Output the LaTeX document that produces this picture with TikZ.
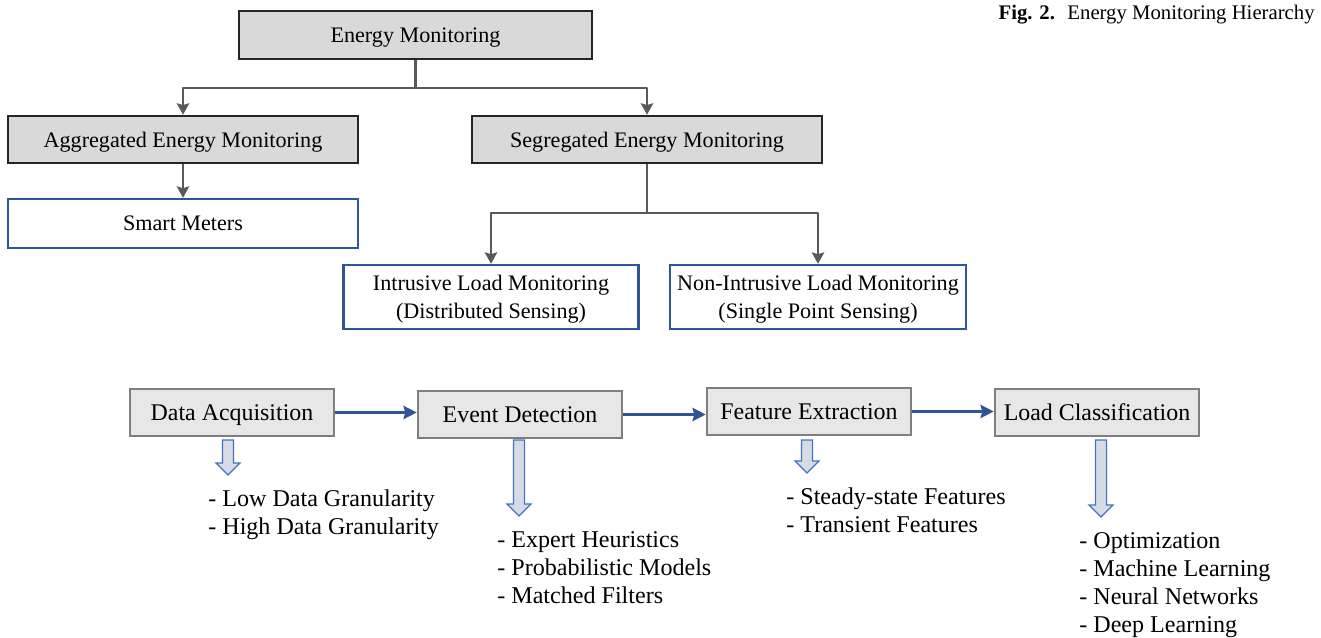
\documentclass[tikz,border=0pt]{standalone}
\usepackage{fontspec}
\setmainfont{Liberation Serif}
\usetikzlibrary{arrows.meta}

\definecolor{boxgray}{HTML}{D9D9D9}
\definecolor{stepgray}{HTML}{E7E7E7}
\definecolor{edgegray}{HTML}{7F7F7F}
\definecolor{linegray}{HTML}{595959}
\definecolor{darkline}{HTML}{262626}
\definecolor{blueline}{HTML}{2F5597}
\definecolor{arrowfill}{HTML}{D6DCE5}
\definecolor{arrowline}{HTML}{4472C4}

\tikzset{
	topbox/.style={draw=darkline, fill=boxgray, line width=1.4pt, minimum width=7cm, minimum height=0.94cm, inner sep=0pt, text depth=0pt, font=\fontsize{12.6}{15.9}\selectfont},
	leafbox/.style={draw=blueline, fill=white, line width=1.3pt, align=center, inner sep=0pt, text depth=0pt, font=\fontsize{12.6}{15.9}\selectfont},
	stepbox/.style={draw=edgegray, fill=stepgray, line width=1.5pt, minimum width=4.08cm, minimum height=0.94cm, inner sep=0pt, text depth=0pt, font=\fontsize{13.6}{15.9}\selectfont},
	listtext/.style={anchor=north west, align=left, inner sep=0pt, font=\fontsize{13.7}{15.9}\selectfont},
	link/.style={draw=linegray, line width=1.4pt, line join=round, -{Stealth[length=6.5pt,width=7pt,inset=1pt]}},
	flow/.style={draw=blueline, line width=1.5pt, -{Stealth[length=7.5pt,width=7.5pt,inset=1pt]}},
	hollow/.style={draw=arrowline, fill=arrowfill, line width=0.7pt, line join=miter},
}

% x, top, tip
\newcommand{\hollowarrow}[3]{%
	\draw[hollow] (#1-5.5,#2) -- (#1+5.5,#2) -- (#1+5.5,#3-12) -- (#1+12,#3-12) -- (#1,#3) -- (#1-12,#3-12) -- (#1-5.5,#3-12) -- cycle;
}

\begin{document}
\begin{tikzpicture}[x=0.02cm, y=-0.02cm]
	
	\useasboundingbox (0,0) rectangle (1321,638);
	
	\node[anchor=east, inner sep=0pt, font=\fontsize{11.8}{14}\selectfont] (caption) at (1315,15) {\textbf{Fig. 2.}\hspace{0.6em}Energy Monitoring Hierarchy};
	
	% hierarchy
	\node[topbox, minimum width=7.06cm, minimum height=0.96cm] (em) at (415.5,35) {Energy Monitoring};
	\node[topbox] (agg) at (183,139.5) {Aggregated Energy Monitoring};
	\node[topbox] (seg) at (647,139.5) {Segregated Energy Monitoring};
	\node[leafbox, minimum width=7cm, minimum height=0.98cm] (smart) at (183,223.5) {Smart Meters};
	\node[leafbox, minimum width=5.9cm, minimum height=1.28cm] (ilm) at (491,297) {Intrusive Load Monitoring\\(Distributed Sensing)};
	\node[leafbox, minimum width=5.92cm, minimum height=1.28cm] (nilm) at (818,297) {Non-Intrusive Load Monitoring\\(Single Point Sensing)};
	
	\draw[draw=linegray, line width=1.4pt] (em.south) -- ++(0,28) coordinate (j1);
	\draw[link] (j1) -| (agg.north);
	\draw[link] (j1) -| (seg.north);
	\draw[link] (agg.south) -- (smart.north);
	\draw[draw=linegray, line width=1.4pt] (seg.south) -- ++(0,49) coordinate (j2);
	\draw[link] (j2) -| (ilm.north);
	\draw[link] (j2) -| (nilm.north);
	
	% steps
	\node[stepbox] (da) at (232,412.5) {Data Acquisition};
	\node[stepbox] (ed) at (520,414.5) {Event Detection};
	\node[stepbox] (fe) at (809,411.5) {Feature Extraction};
	\node[stepbox] (lc) at (1097,412.5) {Load Classification};
	
	\draw[flow] (da.east) -- (da.east -| ed.west);
	\draw[flow] (ed.east) -- (ed.east -| fe.west);
	\draw[flow] (fe.east) -- (fe.east -| lc.west);
	
	\hollowarrow{228}{440}{475}
	\hollowarrow{519}{440}{516}
	\hollowarrow{807}{440}{473}
	\hollowarrow{1101}{440}{517}
	
	\node[listtext] (dalist) at (208,489.5) {- Low Data Granularity\\- High Data Granularity};
	\node[listtext] (edlist) at (497,531.5) {- Expert Heuristics\\- Probabilistic Models\\- Matched Filters};
	\node[listtext] (felist) at (786,487.5) {- Steady-state Features\\- Transient Features};
	\node[listtext] (lclist) at (1079,532.5) {- Optimization\\- Machine Learning\\- Neural Networks\\- Deep Learning};
	
\end{tikzpicture}
\end{document}
